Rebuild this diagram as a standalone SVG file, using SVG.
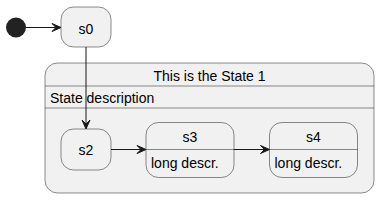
<svg xmlns="http://www.w3.org/2000/svg" width="387" height="206" viewBox="0 0 387 206">
<style>
.st{fill:#F1F1F1;stroke:#181818;stroke-width:0.5}
.ln{stroke:#181818;stroke-width:0.5;fill:none}
.t{font-family:"Liberation Sans",Arial,sans-serif;font-size:14px;fill:#000}
.e{stroke:#181818;stroke-width:1;fill:none}
.ah{fill:#181818;stroke:#181818;stroke-width:1}
</style>
<rect width="387" height="206" fill="#FFFFFF"/>
<g id="start"><circle cx="16" cy="27.5" r="10" fill="#222222"/></g>
<g id="s0"><rect class="st" x="61" y="7" width="50" height="40" rx="12.5"/><text class="t" x="86" y="34" text-anchor="middle">s0</text></g>
<g id="State1">
<rect class="st" x="45" y="63" width="329" height="130" rx="12.5"/>
<text class="t" x="209.5" y="81" text-anchor="middle">This is the State 1</text>
<line class="ln" x1="45" y1="86" x2="374" y2="86"/>
<text class="t" x="50" y="103">State description</text>
<line class="ln" x1="45" y1="108" x2="374" y2="108"/>
</g>
<g id="s2"><rect class="st" x="61" y="129" width="50" height="41" rx="12.5"/><text class="t" x="86" y="154.5" text-anchor="middle">s2</text></g>
<g id="s3"><rect class="st" x="146" y="122.5" width="88" height="55" rx="12.5"/><line class="ln" x1="146" y1="149.5" x2="234" y2="149.5"/><text class="t" x="190" y="142" text-anchor="middle">s3</text><text class="t" x="151" y="168">long descr.</text></g>
<g id="s4"><rect class="st" x="269.5" y="122.5" width="88" height="55" rx="12.5"/><line class="ln" x1="269.5" y1="149.5" x2="357.5" y2="149.5"/><text class="t" x="313.5" y="142" text-anchor="middle">s4</text><text class="t" x="274.5" y="168">long descr.</text></g>
<g id="connectors">
<line class="e" x1="26" y1="27.5" x2="60" y2="27.5"/>
<polygon class="ah" points="61,27.5 52,23.5 56,27.5 52,31.5"/>
<line class="e" x1="86" y1="47" x2="86" y2="128"/>
<polygon class="ah" points="86,129 82,120 86,124 90,120"/>
<line class="e" x1="111" y1="149.5" x2="145" y2="149.5"/>
<polygon class="ah" points="146,149.5 137,145.5 141,149.5 137,153.5"/>
<line class="e" x1="234" y1="149.5" x2="268.5" y2="149.5"/>
<polygon class="ah" points="269.5,149.5 260.5,145.5 264.5,149.5 260.5,153.5"/>
</g>
</svg>
